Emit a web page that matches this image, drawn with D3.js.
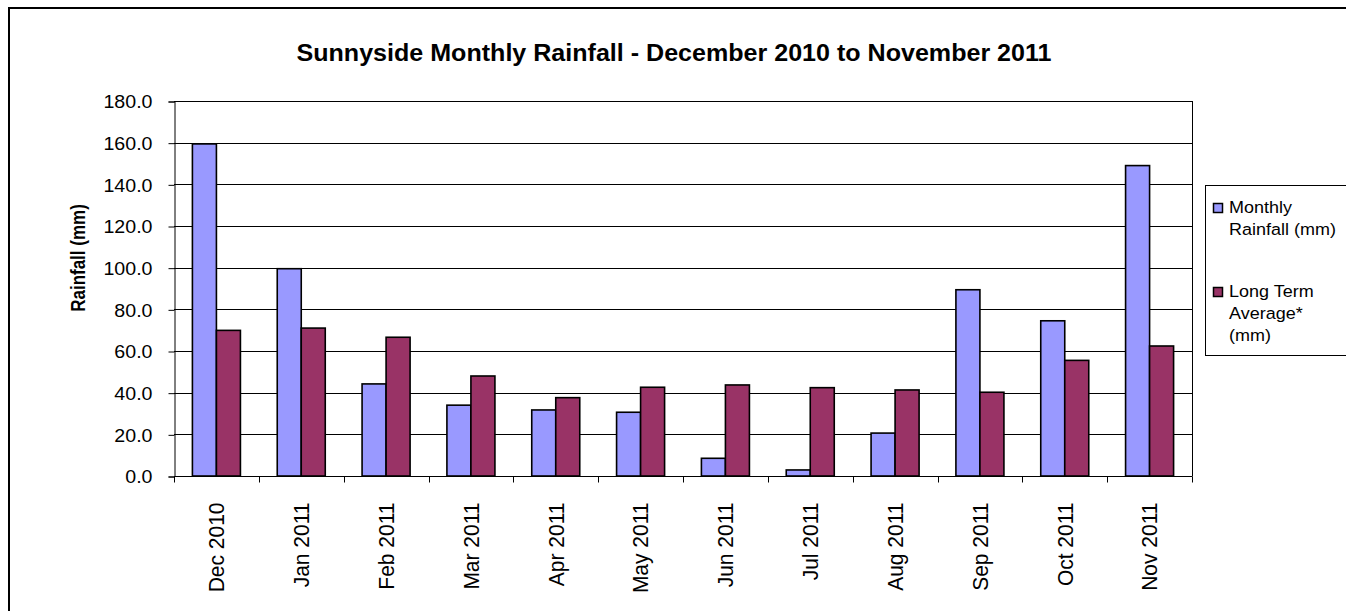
<!DOCTYPE html>
<html>
<head>
<meta charset="utf-8">
<script src="https://cdn.jsdelivr.net/npm/d3@7"></script>
<style>
    html, body { margin: 0; padding: 0; background: #ffffff; overflow: hidden; }
    text { font-family: Arial, "Liberation Sans", sans-serif; fill: #000000; }
</style>
</head>
<body>
<svg id="chart_rainfall"></svg>
<script>
// Chart data
const months = ["Dec 2010", "Jan 2011", "Feb 2011", "Mar 2011", "Apr 2011", "May 2011",
    "Jun 2011", "Jul 2011", "Aug 2011", "Sep 2011", "Oct 2011", "Nov 2011"];
const monthlyRainfall = [159.4, 99.5, 44.2, 34.0, 31.7, 30.6, 8.5, 2.9, 20.6, 89.4, 74.5, 149.0];
const longTermAverage = [69.9, 71.0, 66.6, 48.0, 37.6, 42.6, 43.7, 42.4, 41.3, 40.2, 55.5, 62.4];
const yTicks = [0, 20, 40, 60, 80, 100, 120, 140, 160, 180];
const seriesNames = [["Monthly", "Rainfall (mm)"], ["Long Term", "Average*", "(mm)"]];
const seriesColours = ["#9999ff", "#993366"];

const width = 1346;
const height = 611;
const margin = { top: 101, right: 154, bottom: 135, left: 174 };
const plotWidth = width - margin.left - margin.right;
const plotHeight = height - margin.top - margin.bottom;

// The original picture is a little wider than it is tall, so the text is stretched a bit
const stretch = 1.09;

const svg = d3.select("#chart_rainfall")
    .attr("width", width)
    .attr("height", height);

// Outer chart border (runs off the right and bottom of the picture)
svg.append("rect")
    .attr("x", 9)
    .attr("y", 8)
    .attr("width", 1400)
    .attr("height", 700)
    .attr("fill", "none")
    .attr("stroke", "#000")
    .attr("stroke-width", 2);

const g = svg.append("g")
    .attr("transform", `translate(${margin.left}, ${margin.top})`);

// Scales
const xScale = d3.scaleBand()
    .domain(months)
    .range([0, plotWidth]);

const yScale = d3.scaleLinear()
    .domain([0, 180])
    .range([plotHeight, 0]);

const barWidth = xScale.bandwidth() * 0.283;
const barOffset = (xScale.bandwidth() - 2 * barWidth) / 2;

// Gridlines
g.selectAll("line.yGrid")
    .data(yTicks.slice(1))
    .join("line")
    .attr("class", "yGrid")
    .attr("x1", 0)
    .attr("x2", plotWidth)
    .attr("y1", d => Math.round(yScale(d)) + 0.5)
    .attr("y2", d => Math.round(yScale(d)) + 0.5)
    .attr("stroke", "#000")
    .attr("stroke-width", 1);

// Right edge of the plot area
g.append("line")
    .attr("x1", plotWidth + 0.5)
    .attr("x2", plotWidth + 0.5)
    .attr("y1", yScale(180))
    .attr("y2", plotHeight)
    .attr("stroke", "#000");

// Y axis
const yAxis = d3.axisLeft(yScale)
    .tickValues(yTicks)
    .tickSize(6)
    .tickPadding(16)
    .tickFormat(d3.format(".1f"));

const yAxisG = g.append("g")
    .attr("class", "y-axis")
    .attr("transform", "translate(0.5, 0.5)")
    .call(yAxis);

yAxisG.select(".domain").attr("stroke", "#000");
yAxisG.selectAll(".tick line").attr("stroke", "#000");
yAxisG.selectAll(".tick text")
    .attr("font-family", "Arial, 'Liberation Sans', sans-serif")
    .attr("font-size", "18px")
    .attr("fill", "#000")
    .each(function () {
        const t = d3.select(this);
        const x = +t.attr("x");
        t.attr("x", null).attr("dy", null)
            .attr("dominant-baseline", "central")
            .attr("transform", `translate(${x}, 0) scale(${stretch}, 1)`);
    });

// Bars, one group per series
const series = [monthlyRainfall, longTermAverage];

series.forEach((values, i) => {
    g.selectAll(`rect.series${i}`)
        .data(values)
        .join("rect")
        .attr("class", `series${i}`)
        .attr("x", (d, j) => xScale(months[j]) + barOffset + i * barWidth)
        .attr("y", d => yScale(d))
        .attr("width", barWidth)
        .attr("height", d => plotHeight - yScale(d))
        .attr("fill", seriesColours[i])
        .attr("stroke", "#000")
        .attr("stroke-width", 1.6);
});

// X axis, ticks sit between the months
const xAxisG = g.append("g")
    .attr("class", "x-axis")
    .attr("transform", `translate(0, ${plotHeight + 0.5})`);

xAxisG.append("line")
    .attr("x1", 0)
    .attr("x2", plotWidth + 0.5)
    .attr("stroke", "#000");

xAxisG.selectAll("line.xTick")
    .data(d3.range(months.length + 1))
    .join("line")
    .attr("class", "xTick")
    .attr("x1", d => Math.round(d * xScale.step()) + 0.5)
    .attr("x2", d => Math.round(d * xScale.step()) + 0.5)
    .attr("y1", 0)
    .attr("y2", 6)
    .attr("stroke", "#000");

xAxisG.selectAll("text.xLabel")
    .data(months)
    .join("text")
    .attr("class", "xLabel")
    .attr("font-size", "21px")
    .attr("text-anchor", "end")
    .attr("dominant-baseline", "central")
    .attr("transform", d => `translate(${xScale(d) + xScale.bandwidth() / 2}, 26) scale(${stretch}, 1) rotate(-90)`)
    .text(d => d);

// Title
svg.append("text")
    .attr("text-anchor", "middle")
    .attr("font-size", "24px")
    .attr("font-weight", "bold")
    .attr("transform", `translate(674, 61) scale(1.045, 1)`)
    .text("Sunnyside Monthly Rainfall - December 2010 to November 2011");

// Y axis title
svg.append("text")
    .attr("text-anchor", "middle")
    .attr("dominant-baseline", "central")
    .attr("font-size", "17px")
    .attr("font-weight", "bold")
    .attr("transform", `translate(78, 258) scale(1.2, 1) rotate(-90)`)
    .text("Rainfall (mm)");

// Legend
const legend = svg.append("g").attr("class", "legend");

legend.append("rect")
    .attr("x", 1205.5)
    .attr("y", 185.5)
    .attr("width", 200)
    .attr("height", 170)
    .attr("fill", "#fff")
    .attr("stroke", "#000")
    .attr("stroke-width", 1);

const legendTop = [203, 287];

seriesNames.forEach((lines, i) => {
    legend.append("rect")
        .attr("x", 1213.5)
        .attr("y", legendTop[i] + 0.5)
        .attr("width", 9)
        .attr("height", 9)
        .attr("fill", seriesColours[i])
        .attr("stroke", "#000")
        .attr("stroke-width", 1.5);

    lines.forEach((line, k) => {
        legend.append("text")
            .attr("font-size", "16.5px")
            .attr("transform", `translate(1229, ${legendTop[i] + 10 + k * 22}) scale(${stretch}, 1)`)
            .text(line);
    });
});
</script>
</body>
</html>
